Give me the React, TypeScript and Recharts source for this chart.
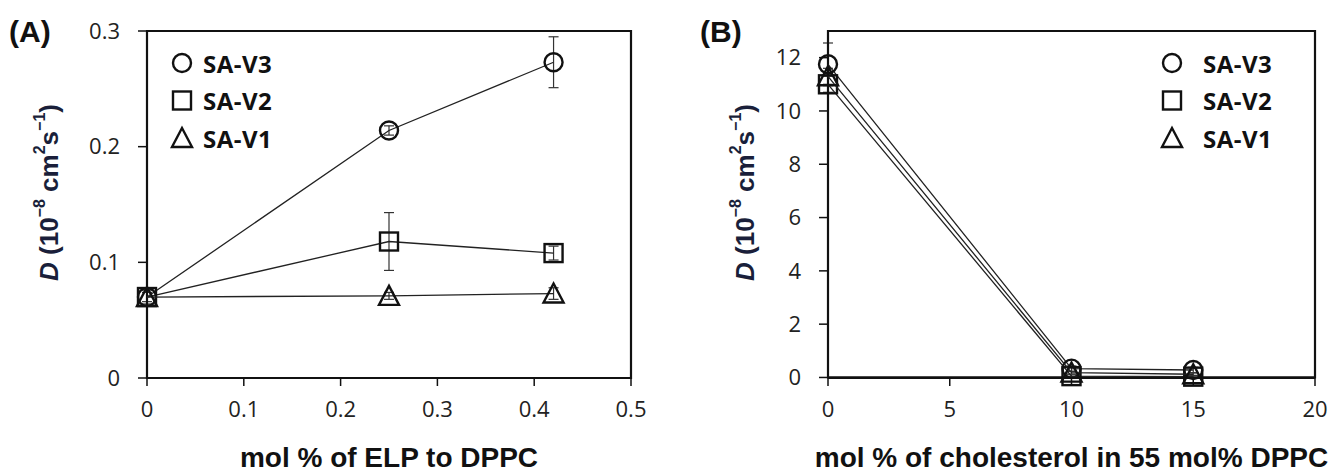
import { ScatterChart, Scatter, XAxis, YAxis, ErrorBar, ReferenceArea } from "recharts";

// panel A: diffusion vs mol % of ELP to DPPC
const elpMol = [0, 0.25, 0.42];
const elpV3 = [0.07, 0.214, 0.273];
const elpV3Err = [0.006, 0.004, 0.022];
const elpV2 = [0.07, 0.118, 0.108];
const elpV2Err = [0.008, 0.025, 0.006];
const elpV1 = [0.07, 0.071, 0.073];
const elpV1Err = [0.004, 0.003, 0.005];
const elpXTicks = [0, 0.1, 0.2, 0.3, 0.4, 0.5];
const elpYTicks = [0, 0.1, 0.2, 0.3];

// panel B: diffusion vs mol % cholesterol
const cholMol = [0, 10, 15];
const cholV3 = [11.75, 0.33, 0.28];
const cholV3Err = [0.8, 0.1, 0.1];
const cholV2 = [11.0, 0.05, 0.03];
const cholV2Err = [0.3, 0.05, 0.05];
const cholV1 = [11.3, 0.18, 0.12];
const cholV1Err = [0.3, 0.05, 0.05];
const cholXTicks = [0, 5, 10, 15, 20];
const cholYTicks = [0, 2, 4, 6, 8, 10, 12];

const seriesNames = ["SA-V3", "SA-V2", "SA-V1"];
const seriesShapes = ["circle", "square", "triangle"];

const INK = "#111";
const TICK_FONT = "'Open Sans', sans-serif";
const TITLE_FONT = "'Liberation Sans', Arial, sans-serif";

const toRows = (xs: number[], ys: number[], errs: number[]) =>
  xs.map((x, i) => ({ x, y: ys[i], err: errs[i] }));

const Marker = ({ kind, cx, cy }: { kind: string; cx: number; cy: number }) => {
  const h = 9;
  if (kind === "circle") {
    return <circle cx={cx} cy={cy} r={h} fill="none" stroke={INK} strokeWidth={2.4} />;
  }
  if (kind === "square") {
    return <rect x={cx - h} y={cy - h} width={h * 2} height={h * 2} fill="none" stroke={INK} strokeWidth={2.4} />;
  }
  return (
    <polygon
      points={`${cx},${cy - h - 1} ${cx - h - 1},${cy + h} ${cx + h + 1},${cy + h}`}
      fill="none"
      stroke={INK}
      strokeWidth={2.4}
    />
  );
};

const YTitle = (props: any) => {
  const { viewBox, dx } = props;
  const x = viewBox.x + dx;
  const y = viewBox.y + viewBox.height / 2 - 12;
  return (
    <text
      x={x}
      y={y}
      transform={`rotate(-90 ${x} ${y})`}
      textAnchor="middle"
      dominantBaseline="central"
      fontFamily={TITLE_FONT}
      fontWeight="bold"
      fontSize={26}
      fill="#1a1f3a"
    >
      <tspan fontStyle="italic">D</tspan>
      <tspan> (10</tspan>
      <tspan fontSize={16} dy={-10}>−8</tspan>
      <tspan dy={10}> cm</tspan>
      <tspan fontSize={16} dy={-10}>2</tspan>
      <tspan dy={10}>s</tspan>
      <tspan fontSize={16} dy={-10}>−1</tspan>
      <tspan dy={10}>)</tspan>
    </text>
  );
};

const XTitle = (props: any) => {
  const { viewBox, value } = props;
  return (
    <text
      x={viewBox.x + viewBox.width / 2}
      y={467}
      textAnchor="middle"
      fontFamily={TITLE_FONT}
      fontWeight="bold"
      fontSize={28}
      fill={INK}
    >
      {value}
    </text>
  );
};

type PanelProps = {
  width: number;
  yAxisWidth: number;
  marginRight: number;
  xDomain: [number, number];
  yDomain: [number, number];
  xTicks: number[];
  yTicks: number[];
  xTitle: string;
  yTitleDx: number;
  series: { x: number; y: number; err: number }[][];
};

const Panel = ({ width, yAxisWidth, marginRight, xDomain, yDomain, xTicks, yTicks, xTitle, yTitleDx, series }: PanelProps) => (
  <ScatterChart width={width} height={473} margin={{ top: 31, right: marginRight, bottom: 0, left: 0 }}>
    <XAxis
      type="number"
      dataKey="x"
      domain={xDomain}
      ticks={xTicks}
      height={95}
      tickSize={8}
      tickMargin={15}
      axisLine={{ stroke: INK, strokeWidth: 2 }}
      tickLine={{ stroke: INK, strokeWidth: 1.5 }}
      tick={{ fill: "#222", fontSize: 22, fontFamily: TICK_FONT }}
      label={<XTitle value={xTitle} />}
    />
    <YAxis
      type="number"
      dataKey="y"
      domain={yDomain}
      ticks={yTicks}
      width={yAxisWidth}
      tickSize={9}
      tickMargin={18}
      axisLine={{ stroke: INK, strokeWidth: 2 }}
      tickLine={{ stroke: INK, strokeWidth: 1.5 }}
      tick={{ fill: "#222", fontSize: 22, fontFamily: TICK_FONT }}
      label={<YTitle dx={yTitleDx} />}
    />
    <ReferenceArea
      x1={xDomain[0]}
      x2={xDomain[1]}
      y1={yDomain[0]}
      y2={yDomain[1]}
      fill="none"
      stroke={INK}
      strokeWidth={2.2}
      ifOverflow="visible"
    />
    {series.map((rows, i) => (
      <Scatter
        key={seriesNames[i]}
        name={seriesNames[i]}
        data={rows}
        line={{ stroke: "#222", strokeWidth: 1.3 }}
        lineType="joint"
        isAnimationActive={false}
        shape={(p: any) => <Marker kind={seriesShapes[i]} cx={p.cx} cy={p.cy} />}
      >
        <ErrorBar dataKey="err" direction="y" width={5} stroke="#333" strokeWidth={1.2} />
      </Scatter>
    ))}
  </ScatterChart>
);

const LegendBox = ({ cx, textX }: { cx: number; textX: number }) => (
  <g>
    {seriesNames.map((name, i) => {
      const cy = 63 + i * 37.5;
      return (
        <g key={name}>
          <Marker kind={seriesShapes[i]} cx={cx} cy={cy} />
          <text
            x={textX}
            y={cy}
            dominantBaseline="central"
            fontFamily={TICK_FONT}
            fontWeight="bold"
            fontSize={24}
            letterSpacing={0.5}
            fill={INK}
          >
            {name}
          </text>
        </g>
      );
    })}
  </g>
);

export default function App() {
  const elpSeries = [toRows(elpMol, elpV3, elpV3Err), toRows(elpMol, elpV2, elpV2Err), toRows(elpMol, elpV1, elpV1Err)];
  const cholSeries = [toRows(cholMol, cholV3, cholV3Err), toRows(cholMol, cholV2, cholV2Err), toRows(cholMol, cholV1, cholV1Err)];

  return (
    <div style={{ position: "absolute", left: 0, top: 0, width: 1339, height: 473, background: "#fff", overflow: "hidden" }}>
      <div style={{ position: "absolute", left: 0, top: 0 }}>
        <Panel
          width={670}
          yAxisWidth={147}
          marginRight={39}
          xDomain={[0, 0.5]}
          yDomain={[0, 0.3]}
          xTicks={elpXTicks}
          yTicks={elpYTicks}
          xTitle="mol % of ELP to DPPC"
          yTitleDx={49}
          series={elpSeries}
        />
      </div>
      <div style={{ position: "absolute", left: 670, top: 0 }}>
        <Panel
          width={669}
          yAxisWidth={158}
          marginRight={24}
          xDomain={[0, 20]}
          yDomain={[0, 13]}
          xTicks={cholXTicks}
          yTicks={cholYTicks}
          xTitle="mol % of cholesterol in 55 mol% DPPC"
          yTitleDx={75}
          series={cholSeries}
        />
      </div>
      <svg width={1339} height={473} style={{ position: "absolute", left: 0, top: 0, pointerEvents: "none" }}>
        <text x={9} y={42} fontFamily={TITLE_FONT} fontWeight="bold" fontSize={30} fill={INK}>(A)</text>
        <text x={700} y={42} fontFamily={TITLE_FONT} fontWeight="bold" fontSize={30} fill={INK}>(B)</text>
        <LegendBox cx={182} textX={203} />
        <LegendBox cx={1172} textX={1203} />
      </svg>
    </div>
  );
}
